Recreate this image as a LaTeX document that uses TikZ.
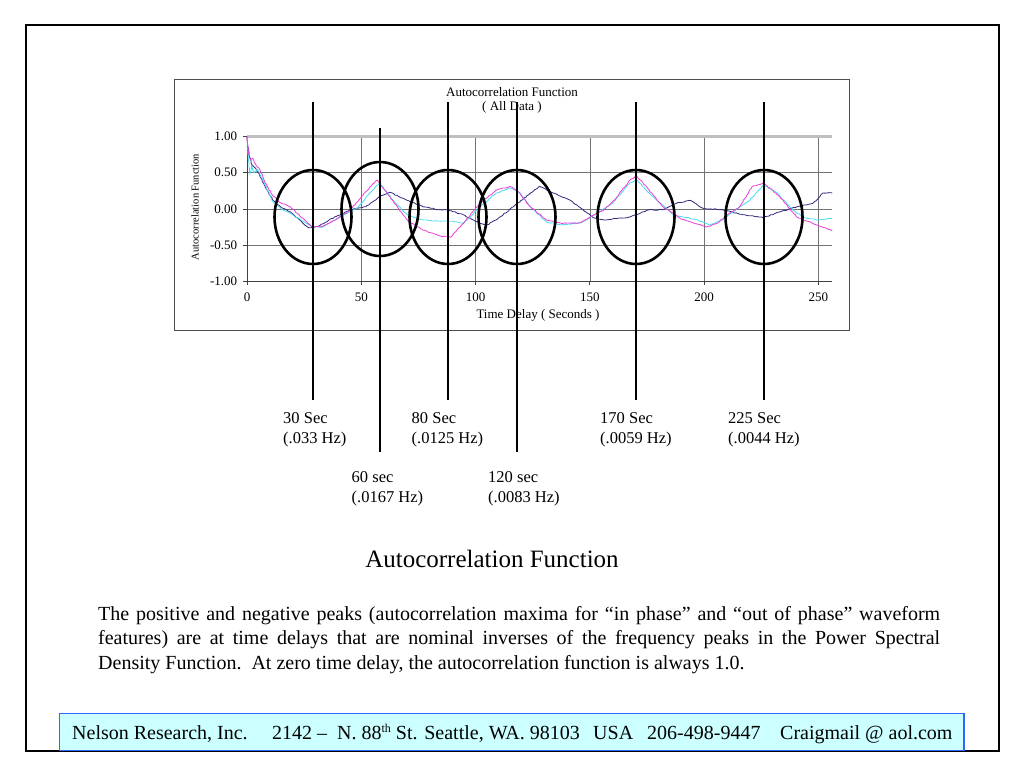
\documentclass[tikz,border=0pt]{standalone}
\usepackage{fontspec}
\setmainfont{Liberation Serif}
\usetikzlibrary{decorations.pathmorphing}
\definecolor{pinkline}{RGB}{235,60,215}
\definecolor{cyanline}{RGB}{70,220,240}
\definecolor{navyline}{RGB}{50,40,130}
\definecolor{footfill}{RGB}{204,255,255}
\definecolor{footdraw}{RGB}{51,102,255}
\pgfmathsetseed{11}

\begin{document}
\begin{tikzpicture}[x=1pt,y=-1pt,
    peak/.style={line width=2.6pt},
    ring/.style={line width=2.6pt},
    lbl/.style={anchor=north west,inner sep=0pt,align=left,font=\fontsize{16.5}{20}\selectfont},
    chart/.style={inner sep=0pt,font=\fontsize{13}{14}\selectfont},
    gridline/.style={black!55,line width=0.7pt},
    trace/.style={line width=0.8pt,line join=round,decorate,
                  decoration={random steps,segment length=2pt,amplitude=0.45pt}},
    foot/.style={anchor=base west,inner sep=0pt,font=\fontsize{20}{24}\selectfont}]
    \useasboundingbox (0,0) rectangle (1024,768);

    % outer frame and chart frame
    \draw[line width=2pt] (25.5,25.5) rectangle (998.5,750.5);
    \draw[black!70,line width=0.9pt] (174,79) rectangle (849,330);

    \node[chart,align=center] (ctitle) at (512,100) {Autocorrelation Function\\( All Data )};
    \node[chart,font=\fontsize{10.5}{12}\selectfont,rotate=90] (ylab) at (195,207) {Autocorrelation Function};
    \node[chart] (xlab) at (538,315) {Time Delay ( Seconds )};

    \begin{scope}[shift={(247,209)},x=2.2857pt,y=72.5pt]
      % grid
      \foreach \t in {50,100,...,250}
        \draw[gridline] (\t,-1) -- (\t,1);
      \foreach \v in {-0.5,0,0.5}
        \draw[gridline] (0,\v) -- (256,\v);
      \draw[black!25,line width=2.4pt] (0,1) -- (256,1);
      \draw[black!75,line width=0.8pt] (0,1) -- (0,-1) -- (256,-1);
      \foreach \v in {-1,-0.5,0,0.5,1}
        \draw[black!75,line width=0.8pt] (-1.8,\v) -- (0,\v);
      \foreach \t in {0,50,...,250}
        \draw[black!75,line width=0.8pt] (\t,-1) -- (\t,-1.05);
      % tick labels
      \foreach \t in {0,50,...,250}
        \node[chart] (x\t) at (\t,-1.22) {\t};
      \foreach \v/\s [count=\i] in {1/1.00,0.5/0.50,0/0.00,-0.5/-0.50,-1/-1.00}
        \node[chart,anchor=east] (y\i) at (-4.2,\v) {\s};

      % traces
      \draw[trace,navyline] plot coordinates {
        (0,1.0) (0.8,0.75) (2,0.62) (3.5,0.57) (5,0.5) (8,0.3) (11.4,0.12) (15,0.02)
        (19,-0.04) (24,-0.18) (27,-0.26) (31,-0.24) (36,-0.15) (45,-0.01) (52,0.03)
        (58,0.17) (62.5,0.23) (70,0.12) (77,0.03) (84.5,-0.01) (87.5,-0.01) (94.6,-0.08)
        (102,-0.2) (105,-0.22) (109,-0.15) (116.5,0.03) (124,0.22) (128,0.31) (134,0.22)
        (141.5,0.12) (147,-0.01) (151.5,-0.12) (156,-0.15) (162,-0.13) (167.5,-0.11)
        (176,-0.01) (182,-0.01) (188,0.08) (194,0.12) (199.5,0.01) (208,-0.01) (217,-0.08)
        (226,-0.12) (233,-0.04) (240.5,0.03) (247.7,0.08) (252,0.22) (256,0.22)};
      \draw[trace,cyanline] plot coordinates {
        (0,1.0) (0.5,0.7) (1.2,0.48) (2,0.6) (3,0.5) (4.5,0.55) (6,0.45) (8,0.33)
        (11.4,0.1) (15,0.0) (19,-0.06) (24,-0.16) (28.5,-0.24) (33,-0.25) (40.7,-0.11)
        (48,0.01) (55,0.26) (58,0.36) (64,0.12) (70,-0.08) (77,-0.15) (84.5,-0.17)
        (90,-0.17) (94.6,-0.2) (102,0.03) (109,0.22) (115,0.29) (119.5,0.22) (124,0.03)
        (131,-0.18) (138,-0.22) (146,-0.19) (153,-0.06) (160,0.08) (167.5,0.36)
        (170.5,0.40) (176,0.22) (186.5,-0.08) (197,-0.15) (202.5,-0.22) (208,-0.15)
        (214,-0.01) (220,0.12) (226,0.33) (232,0.22) (237.5,0.03) (243,-0.11)
        (249,-0.15) (256,-0.13)};
      \draw[trace,pinkline] plot coordinates {
        (0,1.0) (0.6,0.78) (1.5,0.68) (2.5,0.70) (4,0.6) (5.7,0.54) (8,0.36) (11.4,0.18)
        (15,0.08) (19,0.03) (24,-0.12) (28.5,-0.25) (33,-0.24) (38,-0.16) (45,-0.02)
        (52,0.24) (57,0.40) (62.5,0.17) (70,-0.15) (77,-0.29) (84.5,-0.37) (89,-0.39)
        (94.6,-0.2) (102,0.08) (109,0.26) (115,0.31) (118,0.26) (124,0.03) (131,-0.15)
        (138,-0.2) (146,-0.19) (150,-0.11) (156,-0.02) (162,0.17) (167.5,0.40)
        (170.5,0.45) (176,0.26) (182,0.03) (189.5,-0.13) (201,-0.25) (205.5,-0.2)
        (211,-0.06) (215.5,0.03) (221,0.31) (226,0.36) (233,0.17) (240.5,-0.11)
        (247.7,-0.2) (256,-0.3)};
    \end{scope}

    % peak markers
    \foreach \n/\x/\yt/\yb/\yc in {30/313/102/400/217, 60/380/128/452/209, 80/448/102/400/217,
                                  120/517/102/452/217, 170/636/102/400/217, 225/764/102/400/217} {
      \coordinate (t\n) at (\x,\yt);
      \coordinate (b\n) at (\x,\yb);
      \draw[peak] (t\n) -- (b\n);
      \draw[ring] (\x,\yc) ellipse [x radius=38.5, y radius=47];
    }

    \node[lbl] (l30)  at (283,412) {30 Sec\\(.033 Hz)};
    \node[lbl] (l80)  at (411.5,412) {80 Sec\\(.0125 Hz)};
    \node[lbl] (l170) at (600,412) {170 Sec\\(.0059 Hz)};
    \node[lbl] (l225) at (728,412) {225 Sec\\(.0044 Hz)};
    \node[lbl] (l60)  at (351.5,471) {60 sec\\(.0167 Hz)};
    \node[lbl] (l120) at (488,471) {120 sec\\(.0083 Hz)};

    \node[anchor=base,inner sep=0pt,font=\fontsize{25}{30}\selectfont] (title) at (492,567) {Autocorrelation Function};

    \node[anchor=north west,inner sep=0pt,text width=842pt,align=justify,
          font=\fontsize{20}{24.5}\selectfont] (body) at (98,606)
      {The positive and negative peaks (autocorrelation maxima for “in phase” and “out of phase” waveform
       features) are at time delays that are nominal inverses of the frequency peaks in the Power Spectral\linebreak
       Density Function.\ \ At zero time delay, the autocorrelation function is always 1.0.};

    % footer
    \draw[footdraw,fill=footfill,line width=1.5pt] (59.5,713.5) rectangle (964,750.5);
    \node[foot] (f1) at (72,739) {Nelson Research, Inc.};
    \node[foot] (f2) at (272,739) {2142 –\ \ N. 88\raisebox{7pt}{\fontsize{12}{12}\selectfont th} St. Seattle, WA. 98103};
    \node[foot] (f3) at (593,739) {USA};
    \node[foot] (f4) at (647,739) {206-498-9447};
    \node[foot] (f5) at (780,739) {Craigmail @ aol.com};
  \end{tikzpicture}
\end{document}
